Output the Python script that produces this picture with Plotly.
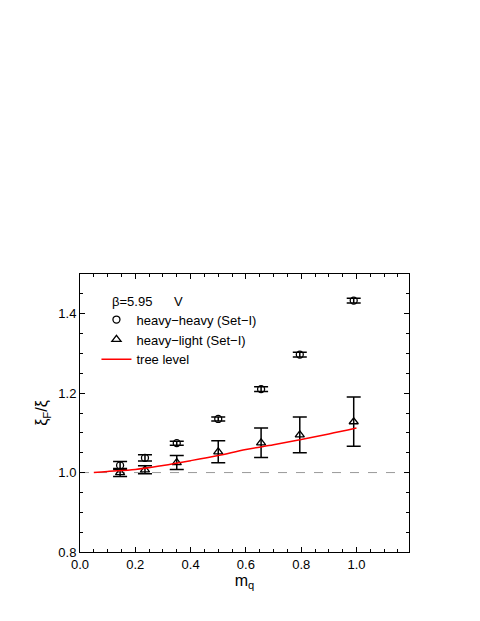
import plotly.graph_objects as go

mq = [0.145, 0.235, 0.35, 0.5, 0.655, 0.795, 0.99]
hh_y = [1.018, 1.037, 1.074, 1.135, 1.210, 1.297, 1.433]
hh_err = [0.010, 0.008, 0.005, 0.005, 0.006, 0.006, 0.006]
hl_y = [1.000, 1.007, 1.025, 1.052, 1.075, 1.095, 1.128]
hl_err_plus = [0.010, 0.010, 0.018, 0.028, 0.037, 0.045, 0.062]
hl_err_minus = [0.010, 0.010, 0.017, 0.027, 0.037, 0.045, 0.062]
tree_x = [0.05, 0.1, 0.2, 0.3, 0.4, 0.5, 0.6, 0.7, 0.8, 0.9, 1.0]
tree_y = [1.000, 1.003, 1.008, 1.018, 1.030, 1.043, 1.058, 1.070, 1.083, 1.097, 1.112]

fig = go.Figure()
fig.add_trace(go.Scatter(x=[0, 1.19], y=[1, 1], mode="lines", showlegend=False,
                         line=dict(color="#999", width=1, dash="dash")))
fig.add_trace(go.Scatter(
    x=mq, y=hh_y, mode="markers", name="heavy\u2212heavy (Set\u2212I)",
    marker=dict(symbol="circle-open", size=7, color="black", line=dict(width=1.3)),
    error_y=dict(type="data", array=hh_err, color="black", thickness=1.5, width=7)))
fig.add_trace(go.Scatter(
    x=mq, y=hl_y, mode="markers", name="heavy\u2212light (Set\u2212I)",
    marker=dict(symbol="triangle-up-open", size=8, color="black", line=dict(width=1.3)),
    error_y=dict(type="data", array=hl_err_plus, arrayminus=hl_err_minus,
                 color="black", thickness=1.5, width=7)))
fig.add_trace(go.Scatter(x=tree_x, y=tree_y, mode="lines", name="tree level",
                         line=dict(color="red", width=1.5, shape="spline")))

fig.add_annotation(x=0.09, y=0.935, xref="paper", yref="paper", showarrow=False,
                   xanchor="left", text="\u03b2=5.95      V", font=dict(size=13))

axis = dict(showgrid=False, zeroline=False, showline=True, mirror="ticks",
            linecolor="black", linewidth=1, ticks="inside", ticklen=5,
            tickcolor="black", minor=dict(ticks="inside", ticklen=3, tickcolor="black"))
fig.update_xaxes(range=[0, 1.19], dtick=0.2, tickformat=".1f",
                 minor_dtick=0.05, title=dict(text="m<sub>q</sub>", standoff=2), **axis)
fig.update_yaxes(range=[0.8, 1.5], dtick=0.2, tickformat=".1f",
                 minor_dtick=0.05, title=dict(text="\u03be<sub>F</sub>/\u03be", standoff=6), **axis)

fig.update_layout(
    width=480, height=621, plot_bgcolor="white", paper_bgcolor="white",
    margin=dict(l=72, r=79, t=266, b=77),
    font=dict(family="Liberation Sans, Arial", size=13, color="black"),
    legend=dict(x=0.05, y=0.89, xanchor="left", yanchor="top",
                bgcolor="rgba(0,0,0,0)", font=dict(size=13),
                tracegroupgap=0, itemwidth=30),
)
fig.write_html("out.html")
